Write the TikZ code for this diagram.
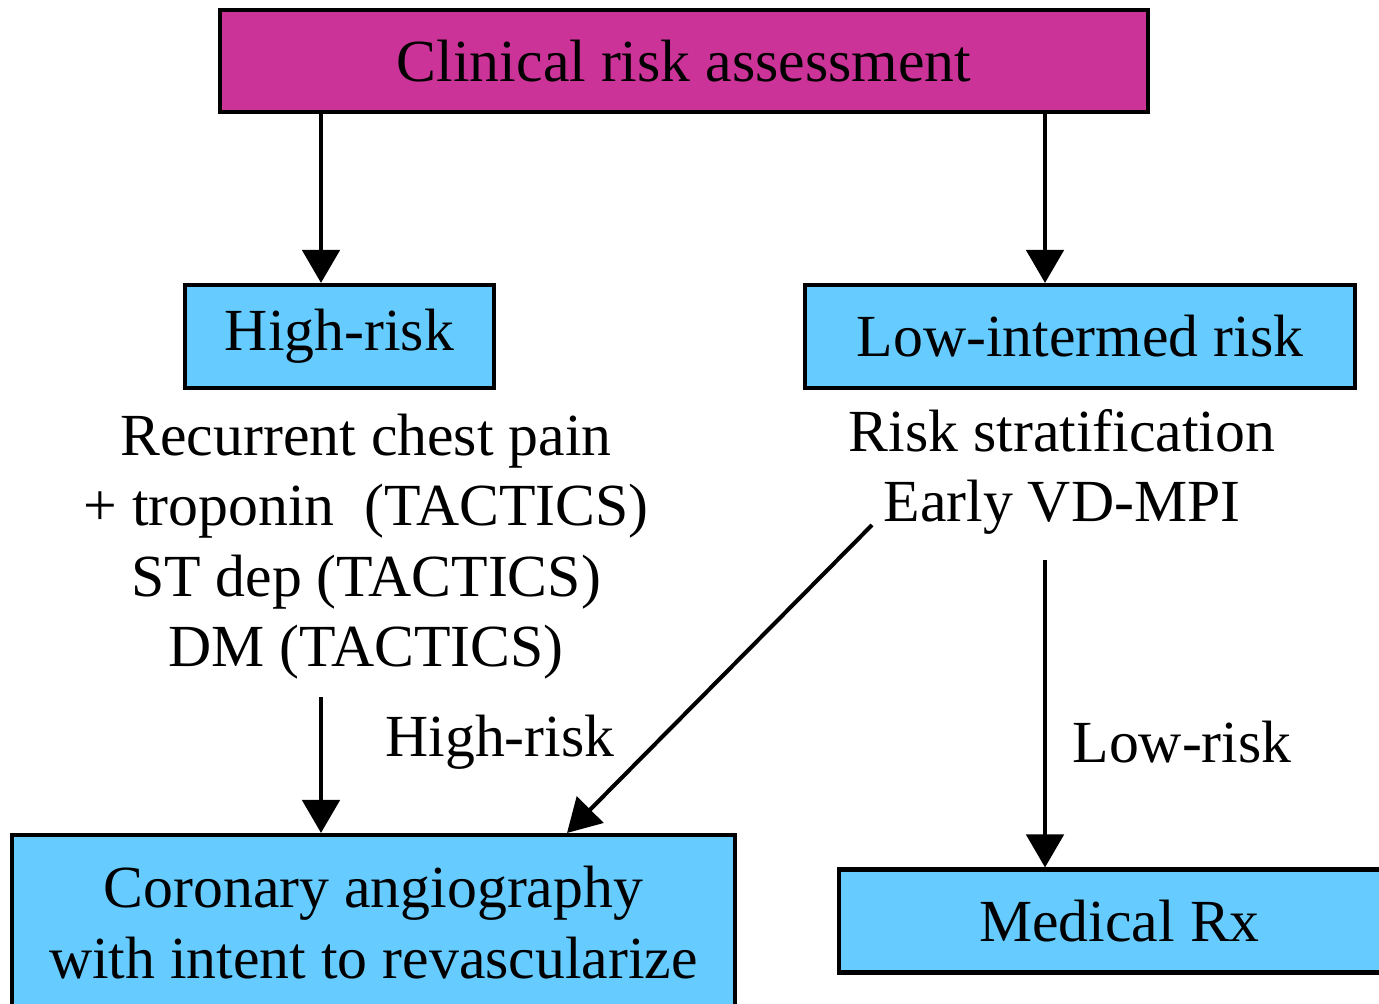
\documentclass[tikz,border=0pt]{standalone}
\usepackage{fontspec}
\setmainfont{Liberation Serif}
\usetikzlibrary{arrows.meta}

\definecolor{assessmag}{HTML}{CC3399}
\definecolor{riskblue}{HTML}{66CCFF}

\tikzset{
    riskbox/.style={draw, line width=2.3pt, fill=riskblue, inner sep=0pt, align=center},
    flow/.style={line width=2.8pt, -{Triangle[width=0.74cm,length=0.66cm]}},
    bigtext/.style={font=\fontsize{34}{40}\selectfont, align=center}
}

\begin{document}
\begin{tikzpicture}[bigtext]

    \useasboundingbox (0,0) rectangle (27.58,-20.06);

    % Boxes
    \node[riskbox, fill=assessmag, minimum width=18.56cm, minimum height=2.04cm] (assess) at (13.68,-1.22) {Clinical risk assessment};
    \node[riskbox, minimum width=6.18cm, minimum height=2.06cm] (high) at (6.79,-6.73) {High-risk};
    \node[riskbox, minimum width=11cm, minimum height=2.06cm] (low) at (21.6,-6.73) {Low-intermed risk};
    \node[riskbox, minimum width=14.46cm, minimum height=3.5cm] (cath) at (7.47,-18.45) {Coronary angiography\\with intent to revascularize};
    \node[riskbox, minimum width=11.22cm, minimum height=2.06cm] (medrx) at (22.39,-18.42) {Medical Rx};

    % Text under the risk groups
    \node (criteria) at (7.32,-10.93) {Recurrent chest pain\\+ troponin\ \ (TACTICS)\\ST dep (TACTICS)\\DM (TACTICS)};
    \node (strat) at (21.24,-9.44) {Risk stratification\\Early VD-MPI};
    \node (highlbl) at (10,-14.84) {High-risk};
    \node (lowlbl) at (23.64,-14.84) {Low-risk};

    % Arrow columns and free ends
    \coordinate (lx) at (6.42,0);
    \coordinate (rx) at (20.9,0);
    \coordinate (critend) at (6.42,-13.94);
    \coordinate (stratdiag) at (17.44,-10.5);
    \coordinate (stratend) at (20.9,-11.2);

    % Arrows
    \draw[flow] (assess.south -| lx) -- (high.north -| lx);
    \draw[flow] (assess.south -| rx) -- (low.north -| rx);
    \draw[flow] (critend) -- (cath.north -| critend);
    \draw[flow, line width=2.3pt] (stratdiag) -- (cath.north -| 11.34,0);
    \draw[flow] (stratend) -- (medrx.north -| stratend);

\end{tikzpicture}
\end{document}
